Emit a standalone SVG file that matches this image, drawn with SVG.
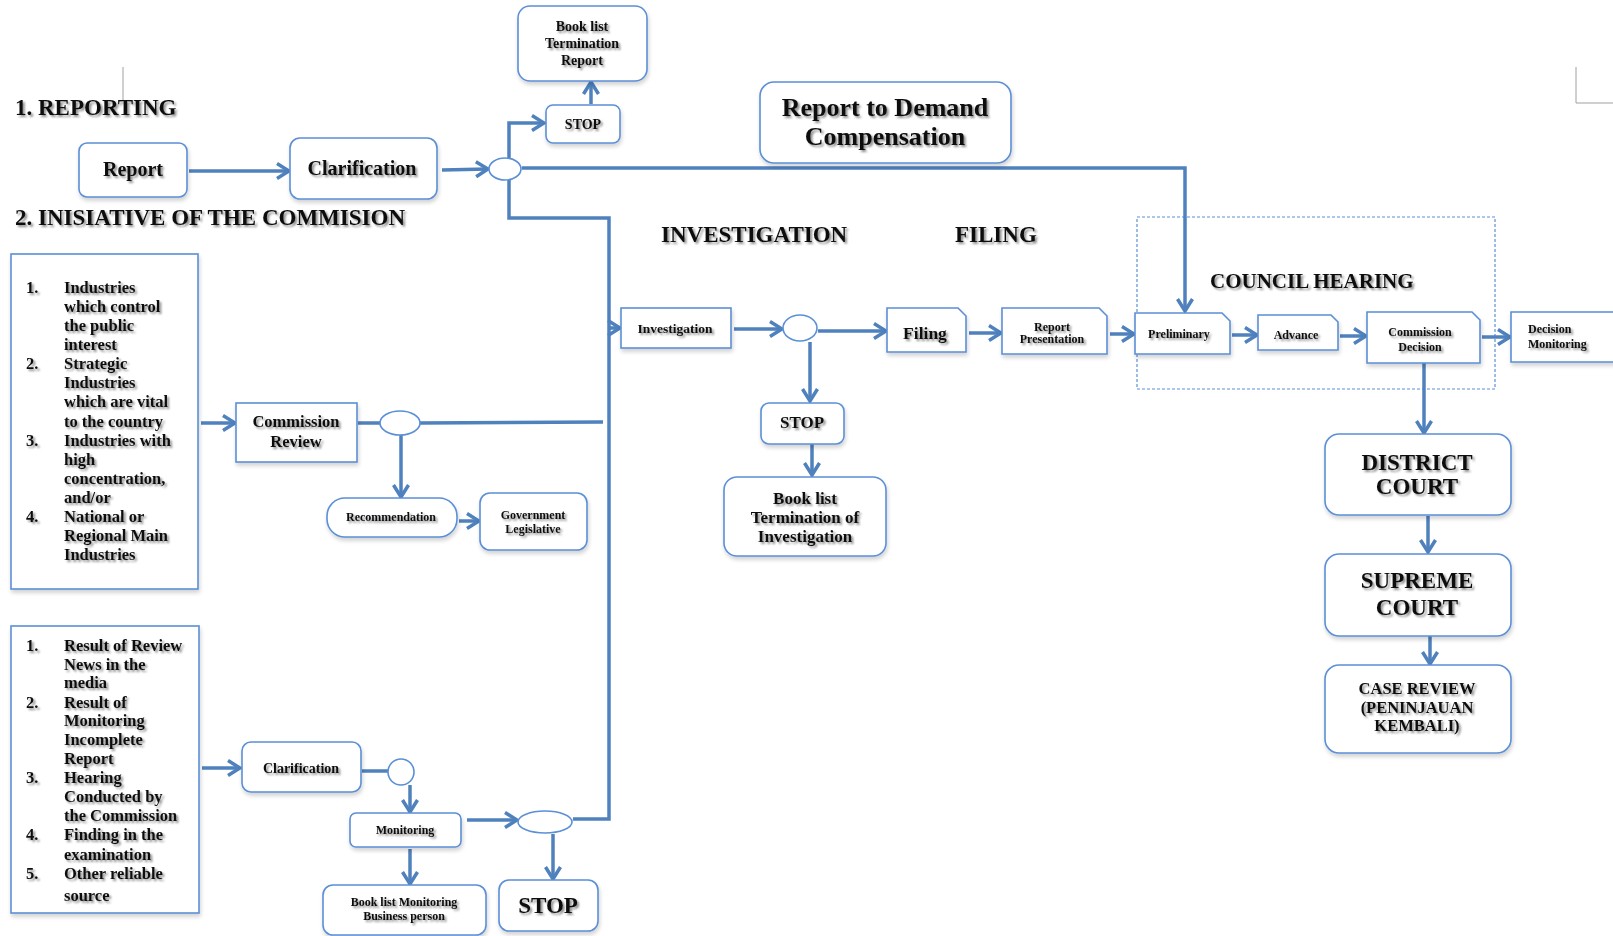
<svg xmlns="http://www.w3.org/2000/svg" width="1613" height="936" viewBox="0 0 1613 936">
<defs>
<style>
.t{font-family:"Liberation Serif","Times New Roman",serif;font-weight:bold;fill:#111;}
.c{text-anchor:middle;}
.box{fill:#fff;stroke:#5b8fd6;stroke-width:1.6;}
.ln{fill:none;stroke:#4f81bd;stroke-width:3.5;}
.ar{marker-end:url(#ah);}
.dash{fill:none;stroke:#5b8fd6;stroke-width:1.2;stroke-dasharray:3 2;}
.mark{fill:none;stroke:#a0a0a0;stroke-width:1;}
</style>
<marker id="ah" markerUnits="userSpaceOnUse" markerWidth="16" markerHeight="18" viewBox="0 0 16 18" refX="14" refY="9" orient="auto">
<path d="M2,1.5 L14,9 L2,16.5" fill="none" stroke="#4f81bd" stroke-width="3.5"/>
</marker>
<filter id="ts" x="-10%" y="-30%" width="130%" height="170%">
<feGaussianBlur in="SourceAlpha" stdDeviation="1.2"/>
<feOffset dx="1.5" dy="2" result="b"/>
<feComponentTransfer><feFuncA type="linear" slope="0.45"/></feComponentTransfer>
<feMerge><feMergeNode/><feMergeNode in="SourceGraphic"/></feMerge>
</filter>
<filter id="bs" x="-10%" y="-10%" width="125%" height="130%">
<feGaussianBlur in="SourceAlpha" stdDeviation="2"/>
<feOffset dx="1" dy="3"/>
<feComponentTransfer><feFuncA type="linear" slope="0.18"/></feComponentTransfer>
<feMerge><feMergeNode/><feMergeNode in="SourceGraphic"/></feMerge>
</filter>
</defs>
<rect width="1613" height="936" fill="#fff"/>

<!-- page artifacts -->
<path class="mark" d="M123,67 V100"/>
<path class="mark" d="M1576,67 V103 H1613"/>

<!-- headings -->
<g id="headings" class="t" filter="url(#ts)">
<text x="15" y="115" font-size="23">1. REPORTING</text>
<text x="15" y="225" font-size="23">2. INISIATIVE OF THE COMMISION</text>
<text x="661" y="242" font-size="23">INVESTIGATION</text>
<text x="955" y="242" font-size="23">FILING</text>
<text x="1210" y="288" font-size="21">COUNCIL HEARING</text>
</g>

<rect id="council-hearing-area" class="dash" x="1137" y="217" width="358" height="172"/>

<!-- connectors -->
<g id="connectors">
<path class="ln ar" d="M189,171 L289,171"/>
<path class="ln ar" d="M442,170 L488,169"/>
<path class="ln ar" d="M522,168 L1185,168 L1185,311"/>
<path class="ln ar" d="M509,158 L509,123 L544,123"/>
<path class="ln" d="M509,180 L509,218 L609,218 L609,819 L573,819"/>
<path class="ln ar" d="M609,328 L620,328"/>
<path class="ln ar" d="M591,104 L591,82"/>
<path class="ln ar" d="M734,329 L782,329"/>
<path class="ln ar" d="M818,331 L886,331"/>
<path class="ln ar" d="M969,333 L1001,333"/>
<path class="ln ar" d="M1110,334 L1134,334"/>
<path class="ln ar" d="M1232,335 L1257,335"/>
<path class="ln ar" d="M1340,336 L1366,336"/>
<path class="ln ar" d="M1482,337 L1510,337"/>
<path class="ln ar" d="M810,342 L810,401"/>
<path class="ln ar" d="M812,444 L812,475"/>
<path class="ln ar" d="M1424,363 L1424,433"/>
<path class="ln ar" d="M1428,516 L1428,552"/>
<path class="ln ar" d="M1430,636 L1430,664"/>
<path class="ln ar" d="M201,423 L235,423"/>
<path class="ln" d="M358,423 L380,423"/>
<path class="ln" d="M420,423 L603,422"/>
<path class="ln ar" d="M401,435 L401,497"/>
<path class="ln ar" d="M459,521 L479,521"/>
<path class="ln ar" d="M202,768 L240,768"/>
<path class="ln" d="M362,771 L388,771"/>
<path class="ln ar" d="M410,785 L410,812"/>
<path class="ln ar" d="M467,820 L517,820"/>
<path class="ln ar" d="M410,849 L410,884"/>
<path class="ln ar" d="M553,834 L553,879"/>
</g>

<!-- junction ellipses -->
<g id="junctions">
<ellipse class="box" cx="505" cy="169" rx="16" ry="11"/>
<ellipse class="box" cx="800" cy="328" rx="17" ry="13"/>
<ellipse class="box" cx="400" cy="423" rx="20" ry="12"/>
<circle class="box" cx="401" cy="772" r="13"/>
<ellipse class="box" cx="545" cy="822" rx="27" ry="11"/>
</g>

<g id="report" filter="url(#bs)"><rect class="box" x="79" y="143" width="108" height="54" rx="8"/></g>
<g id="clarification-top" filter="url(#bs)"><rect class="box" x="290" y="138" width="147" height="61" rx="10"/></g>
<g id="stop-top" filter="url(#bs)"><rect class="box" x="546" y="105" width="74" height="38" rx="7"/></g>
<g id="booklist-report" filter="url(#bs)"><rect class="box" x="518" y="6" width="129" height="75" rx="12"/></g>
<g id="demand-compensation" filter="url(#bs)"><rect class="box" x="760" y="82" width="251" height="81" rx="14"/></g>
<g id="investigation" filter="url(#bs)"><rect class="box" x="621" y="308" width="110" height="40"/></g>
<g id="filing" filter="url(#bs)"><path class="box" d="M887,308 H958 L966,316 V352 H887 Z"/></g>
<g id="report-presentation" filter="url(#bs)"><path class="box" d="M1002,308 H1099 L1107,316 V354 H1002 Z"/></g>
<g id="preliminary" filter="url(#bs)"><path class="box" d="M1135,313 H1222 L1230,321 V354 H1135 Z"/></g>
<g id="advance" filter="url(#bs)"><path class="box" d="M1258,315 H1331 L1338,322 V350 H1258 Z"/></g>
<g id="commission-decision" filter="url(#bs)"><path class="box" d="M1367,312 H1472 L1480,320 V363 H1367 Z"/></g>
<g id="decision-monitoring" filter="url(#bs)"><path class="box" d="M1511,312 H1617 L1625,320 V362 H1511 Z"/></g>
<g id="stop-mid" filter="url(#bs)"><rect class="box" x="761" y="403" width="83" height="41" rx="8"/></g>
<g id="booklist-investigation" filter="url(#bs)"><rect class="box" x="724" y="477" width="162" height="79" rx="13"/></g>
<g id="district-court" filter="url(#bs)"><rect class="box" x="1325" y="434" width="186" height="81" rx="14"/></g>
<g id="supreme-court" filter="url(#bs)"><rect class="box" x="1325" y="554" width="186" height="82" rx="14"/></g>
<g id="case-review" filter="url(#bs)"><rect class="box" x="1325" y="665" width="186" height="88" rx="14"/></g>
<g id="list-1" filter="url(#bs)"><rect class="box" x="11" y="254" width="187" height="335"/></g>
<g id="commission-review" filter="url(#bs)"><rect class="box" x="236" y="403" width="121" height="59"/></g>
<g id="recommendation" filter="url(#bs)"><rect class="box" x="327" y="498" width="130" height="39" rx="18"/></g>
<g id="government-legislative" filter="url(#bs)"><rect class="box" x="480" y="493" width="107" height="57" rx="10"/></g>
<g id="list-2" filter="url(#bs)"><rect class="box" x="11" y="626" width="188" height="287"/></g>
<g id="clarification-bottom" filter="url(#bs)"><rect class="box" x="242" y="742" width="119" height="50" rx="9"/></g>
<g id="monitoring" filter="url(#bs)"><rect class="box" x="350" y="813" width="111" height="34" rx="6"/></g>
<g id="booklist-monitoring" filter="url(#bs)"><rect class="box" x="323" y="885" width="163" height="50" rx="10"/></g>
<g id="stop-bottom" filter="url(#bs)"><rect class="box" x="499" y="880" width="99" height="51" rx="10"/></g>

<!-- labels -->
<g id="labels" class="t" filter="url(#ts)">
<text class="c" x="133" y="176" font-size="20">Report</text>
<text class="c" x="362" y="175" font-size="20">Clarification</text>
<text class="c" x="583" y="129" font-size="14">STOP</text>
<text class="c" x="582" y="31" font-size="14">Book list</text>
<text class="c" x="582" y="48" font-size="14">Termination</text>
<text class="c" x="582" y="65" font-size="14">Report</text>
<text class="c" x="885" y="116" font-size="26">Report to Demand</text>
<text class="c" x="885" y="145" font-size="26">Compensation</text>
<text class="c" x="675" y="333" font-size="13.5">Investigation</text>
<text class="c" x="925" y="339" font-size="17.5">Filing</text>
<text class="c" x="1052" y="331" font-size="12">Report</text>
<text class="c" x="1052" y="343" font-size="12">Presentation</text>
<text class="c" x="1179" y="338" font-size="12">Preliminary</text>
<text class="c" x="1296" y="339" font-size="12">Advance</text>
<text class="c" x="1420" y="336" font-size="12">Commission</text>
<text class="c" x="1420" y="351" font-size="12">Decision</text>
<text x="1528" y="333" font-size="12">Decision</text>
<text x="1528" y="348" font-size="12">Monitoring</text>
<text class="c" x="802" y="428" font-size="17">STOP</text>
<text class="c" x="805" y="504" font-size="17">Book list</text>
<text class="c" x="805" y="523" font-size="17">Termination of</text>
<text class="c" x="805" y="542" font-size="17">Investigation</text>
<text class="c" x="1417" y="470" font-size="23">DISTRICT</text>
<text class="c" x="1417" y="494" font-size="23">COURT</text>
<text class="c" x="1417" y="588" font-size="23">SUPREME</text>
<text class="c" x="1417" y="615" font-size="23">COURT</text>
<text class="c" x="1417" y="694" font-size="16.5">CASE REVIEW</text>
<text class="c" x="1417" y="713" font-size="16.5">(PENINJAUAN</text>
<text class="c" x="1417" y="731" font-size="16.5">KEMBALI)</text>
<text class="c" x="296" y="427" font-size="16.5">Commission</text>
<text class="c" x="296" y="447" font-size="16.5">Review</text>
<text class="c" x="391" y="521" font-size="12">Recommendation</text>
<text class="c" x="533" y="519" font-size="12">Government</text>
<text class="c" x="533" y="533" font-size="12">Legislative</text>
<text class="c" x="301" y="773" font-size="14">Clarification</text>
<text class="c" x="405" y="834" font-size="12">Monitoring</text>
<text class="c" x="404" y="906" font-size="12">Book list Monitoring</text>
<text class="c" x="404" y="920" font-size="12">Business person</text>
<text class="c" x="548" y="913" font-size="23">STOP</text>
</g>

<g id="list-1-text" class="t" font-size="16.5" filter="url(#ts)">
<text x="26" y="293">1.</text><text x="64" y="293">Industries</text>
<text x="64" y="312">which control</text>
<text x="64" y="331">the public</text>
<text x="64" y="350">interest</text>
<text x="26" y="369">2.</text><text x="64" y="369">Strategic</text>
<text x="64" y="388">Industries</text>
<text x="64" y="407">which are vital</text>
<text x="64" y="427">to the country</text>
<text x="26" y="446">3.</text><text x="64" y="446">Industries with</text>
<text x="64" y="465">high</text>
<text x="64" y="484">concentration,</text>
<text x="64" y="503">and/or</text>
<text x="26" y="522">4.</text><text x="64" y="522">National or</text>
<text x="64" y="541">Regional Main</text>
<text x="64" y="560">Industries</text>
</g>

<g id="list-2-text" class="t" font-size="16.5" filter="url(#ts)">
<text x="26" y="651">1.</text><text x="64" y="651">Result of Review</text>
<text x="64" y="670">News in the</text>
<text x="64" y="688">media</text>
<text x="26" y="708">2.</text><text x="64" y="708">Result of</text>
<text x="64" y="726">Monitoring</text>
<text x="64" y="745">Incomplete</text>
<text x="64" y="764">Report</text>
<text x="26" y="783">3.</text><text x="64" y="783">Hearing</text>
<text x="64" y="802">Conducted by</text>
<text x="64" y="821">the Commission</text>
<text x="26" y="840">4.</text><text x="64" y="840">Finding in the</text>
<text x="64" y="860">examination</text>
<text x="26" y="879">5.</text><text x="64" y="879">Other reliable</text>
<text x="64" y="901">source</text>
</g>
</svg>
